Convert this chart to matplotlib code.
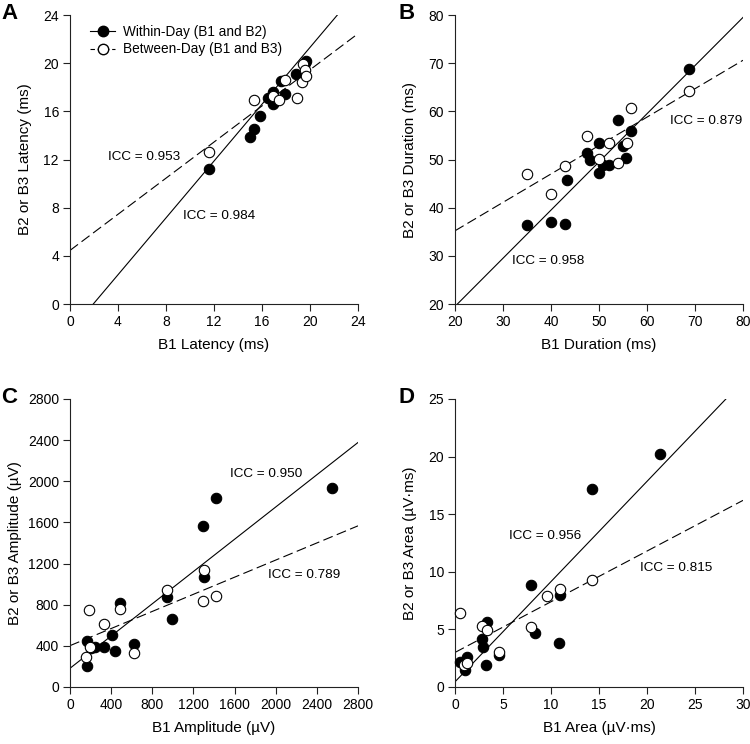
import matplotlib
matplotlib.use("Agg")
import matplotlib.pyplot as plt
from matplotlib.lines import Line2D
import numpy as np

plt.rcParams['font.family'] = ['Liberation Sans', 'DejaVu Sans']

# ---------------- data ----------------
# Panel A: latency (ms)
a_within_x = [11.6, 15.0, 15.3, 15.8, 16.5, 16.9, 16.9, 17.6, 17.9, 18.8, 19.7, 19.6, 17.0]
a_within_y = [11.2, 13.9, 14.5, 15.6, 17.1, 17.6, 16.6, 18.5, 17.4, 19.1, 20.2, 20.0, 16.8]
a_between_x = [11.6, 15.3, 16.9, 17.4, 17.9, 18.9, 19.4, 19.6, 19.3, 19.7]
a_between_y = [12.6, 16.9, 17.3, 16.9, 18.6, 17.1, 19.9, 19.4, 18.4, 18.9]
a_fit_within = (1.18, -2.29)    # slope, intercept
a_fit_between = (0.75, 4.45)

# Panel B: duration (ms)
b_within_x = [68.75, 54.0, 56.7, 49.9, 54.9, 47.6, 48.1, 55.6, 50.8, 52.1, 50.1, 43.3, 35.1, 40.0, 42.9]
b_within_y = [68.7, 58.2, 55.9, 53.4, 52.7, 51.3, 50.0, 50.3, 48.9, 48.9, 47.1, 45.7, 36.3, 37.0, 36.6]
b_between_x = [68.75, 56.7, 47.6, 52.1, 55.8, 50.1, 54.0, 42.9, 35.1, 40.0]
b_between_y = [64.3, 60.6, 54.9, 53.4, 53.4, 50.2, 49.2, 48.7, 47.0, 42.8]
b_fit_within = (1.0, -0.5)
b_fit_between = (0.59, 23.4)

# Panel C: amplitude (uV)
c_within_x = [168, 168, 205, 245, 331, 408, 438, 486, 622, 940, 989, 1290, 1306, 1416, 2544]
c_within_y = [450, 204, 380, 392, 392, 505, 353, 814, 418, 878, 660, 1568, 1072, 1834, 1938]
c_between_x = [180, 331, 486, 194, 160, 622, 940, 1290, 1306, 1416]
c_between_y = [749, 610, 755, 392, 289, 334, 943, 836, 1137, 888]
c_fit_within = (0.784, 182)
c_fit_between = (0.416, 402)

# Panel D: area (uV*ms)
d_within_x = [0.48, 1.04, 1.26, 2.78, 2.96, 3.33, 3.23, 4.6, 7.9, 8.37, 10.8, 10.9, 14.3, 21.35]
d_within_y = [2.2, 1.48, 2.58, 4.14, 3.5, 5.6, 1.91, 2.8, 8.85, 4.7, 3.85, 7.95, 17.2, 20.2]
d_between_x = [0.52, 0.94, 1.25, 2.86, 3.33, 4.6, 7.9, 9.55, 10.9, 14.3]
d_between_y = [6.45, 1.91, 2.08, 5.3, 4.95, 3.07, 5.2, 7.9, 8.5, 9.3]
d_fit_within = (0.87, 0.45)
d_fit_between = (0.44, 3.0)

icc_a = ["ICC = 0.984", "ICC = 0.953"]
icc_b = ["ICC = 0.958", "ICC = 0.879"]
icc_c = ["ICC = 0.950", "ICC = 0.789"]
icc_d = ["ICC = 0.956", "ICC = 0.815"]

# ---------------- figure ----------------
W, H = 750, 744
fig = plt.figure(figsize=(W / 100, H / 100), dpi=100)


def add_ax(left, top, right, bottom):
    return fig.add_axes([left / W, 1 - bottom / H, (right - left) / W, (bottom - top) / H])


axA = add_ax(70, 15, 358, 304)
axB = add_ax(455, 15, 743, 304)
axC = add_ax(70, 399, 358, 687)
axD = add_ax(455, 399, 743, 687)

TFS = 10      # tick labels
LFS = 11      # axis labels
IFS = 9.7     # ICC annotations
dash = (0, (9, 4))


def style(ax, xlim, ylim, xt, yt, xlabel, ylabel, ylab_off=45):
    ax.set_xlim(xlim)
    ax.set_ylim(ylim)
    ax.set_xticks(xt)
    ax.set_yticks(yt)
    for s in ['top', 'right']:
        ax.spines[s].set_visible(False)
    for s in ['left', 'bottom']:
        ax.spines[s].set_linewidth(0.8)
        ax.spines[s].set_color('#222222')
    ax.tick_params(direction='out', length=5, width=0.8, labelsize=TFS, color='#222222', pad=3)
    ax.set_xlabel(xlabel, fontsize=LFS)
    ax.set_ylabel(ylabel, fontsize=LFS)
    bb = ax.get_position()
    wpx, hpx = bb.width * W, bb.height * H
    ax.xaxis.label.set_va('center')
    ax.xaxis.set_label_coords(0.5, -41 / hpx)
    ax.yaxis.label.set_va('center')
    ax.yaxis.set_label_coords(-ylab_off / wpx, 0.5)


def draw(ax, wx, wy, bx, by, fw, fb, xlim):
    xs = np.array(xlim, dtype=float)
    ax.plot(xs, fw[0] * xs + fw[1], color='black', lw=0.8, zorder=2)
    ax.plot(xs, fb[0] * xs + fb[1], color='black', lw=0.8, linestyle=dash, zorder=2)
    ax.plot(wx, wy, 'o', ms=7.5, mfc='black', mec='black', mew=0.8, zorder=3, clip_on=False)
    ax.plot(bx, by, 'o', ms=7.5, mfc='white', mec='black', mew=0.8, zorder=4, clip_on=False)


# A
draw(axA, a_within_x, a_within_y, a_between_x, a_between_y, a_fit_within, a_fit_between, (0, 24))
style(axA, (0, 24), (0, 24), range(0, 25, 4), range(0, 25, 4), 'B1 Latency (ms)', 'B2 or B3 Latency (ms)')
axA.text(3.17, 12.2, icc_a[1], fontsize=IFS, va='center')
axA.text(9.4, 7.3, icc_a[0], fontsize=IFS, va='center')
h1 = Line2D([], [], color='black', lw=0.8, marker='o', ms=7.5, mfc='black', mec='black')
h2 = Line2D([], [], color='black', lw=0.8, linestyle=(0, (4, 2.5)), marker='o', ms=7.5,
            mfc='white', mec='black')
axA.legend([h1, h2], ['Within-Day (B1 and B2)', 'Between-Day (B1 and B3)'], loc='upper left',
           bbox_to_anchor=(20 / 288, 1 - 10 / 289), frameon=False, fontsize=9.8, handlelength=1.85,
           handletextpad=0.55, labelspacing=0.25, borderaxespad=0, borderpad=0, numpoints=1)

# B
draw(axB, b_within_x, b_within_y, b_between_x, b_between_y, b_fit_within, b_fit_between, (20, 80))
style(axB, (20, 80), (20, 80), range(20, 81, 10), range(20, 81, 10), 'B1 Duration (ms)', 'B2 or B3 Duration (ms)')
axB.text(31.8, 28.9, icc_b[0], fontsize=IFS, va='center')
axB.text(64.8, 58.0, icc_b[1], fontsize=IFS, va='center')

# C
draw(axC, c_within_x, c_within_y, c_between_x, c_between_y, c_fit_within, c_fit_between, (0, 2800))
style(axC, (0, 2800), (0, 2800), range(0, 2801, 400), range(0, 2801, 400), 'B1 Amplitude (µV)',
      'B2 or B3 Amplitude (µV)', ylab_off=55)
axC.text(1556, 2068, icc_c[0], fontsize=IFS, va='center')
axC.text(1922, 1089, icc_c[1], fontsize=IFS, va='center')

# D
draw(axD, d_within_x, d_within_y, d_between_x, d_between_y, d_fit_within, d_fit_between, (0, 30))
style(axD, (0, 30), (0, 25), range(0, 31, 5), range(0, 26, 5), 'B1 Area (µV·ms)', 'B2 or B3 Area (µV·ms)')
axD.text(5.66, 13.1, icc_d[0], fontsize=IFS, va='center')
axD.text(19.3, 10.3, icc_d[1], fontsize=IFS, va='center')

for lab, (x, y) in zip('ABCD', [(1, 3), (399, 3), (1, 387), (399, 387)]):
    fig.text(x / W, 1 - y / H, lab, fontsize=16, fontweight='bold', ha='left', va='top')

fig.savefig('out.png', dpi=100)
